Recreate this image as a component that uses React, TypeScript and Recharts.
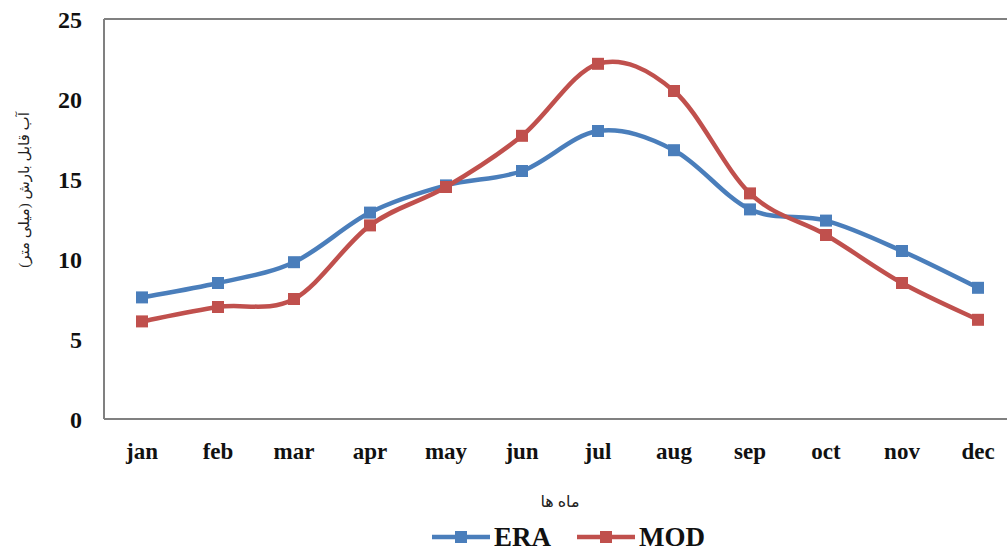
import React from 'react';
import { LineChart, Line, XAxis, YAxis, Legend, Label, ReferenceLine } from 'recharts';

const months = ['jan', 'feb', 'mar', 'apr', 'may', 'jun', 'jul', 'aug', 'sep', 'oct', 'nov', 'dec'];
const eraValues = [7.6, 8.5, 9.8, 12.9, 14.6, 15.5, 18.0, 16.8, 13.1, 12.4, 10.5, 8.2];
const modValues = [6.1, 7.0, 7.5, 12.1, 14.5, 17.7, 22.2, 20.5, 14.1, 11.5, 8.5, 6.2];
const yTicks = [0, 5, 10, 15, 20, 25];

const ERA_COLOR = '#4a7ebb';
const MOD_COLOR = '#c0504d';
const SERIF = '"Liberation Serif", "Times New Roman", "DejaVu Sans", serif';

const data = months.map((m, i) => ({ month: m, ERA: eraValues[i], MOD: modValues[i] }));

// excel-like smoothed line (catmull-rom as bezier)
const excelSmooth = (ctx: any) => {
  let pts: number[][] = [];
  return {
    areaStart() {},
    areaEnd() {},
    lineStart() { pts = []; },
    point(x: number, y: number) { pts.push([+x, +y]); },
    lineEnd() {
      if (!pts.length) return;
      ctx.moveTo(pts[0][0], pts[0][1]);
      for (let i = 0; i < pts.length - 1; i++) {
        const p0 = pts[i - 1] || pts[i];
        const p1 = pts[i];
        const p2 = pts[i + 1];
        const p3 = pts[i + 2] || p2;
        ctx.bezierCurveTo(
          p1[0] + (p2[0] - p0[0]) / 6, p1[1] + (p2[1] - p0[1]) / 6,
          p2[0] - (p3[0] - p1[0]) / 6, p2[1] - (p3[1] - p1[1]) / 6,
          p2[0], p2[1]
        );
      }
    },
  };
};

const squareDot = (color: string, name: string) => (p: any) => (
  <rect key={`${name}-${p.index}`} x={p.cx - 6} y={p.cy - 6} width={12} height={12} fill={color} />
);

const LegendIcon = ({ color }: { color: string }) => (
  <svg width={58} height={14} style={{ display: 'block' }}>
    <line x1={0} y1={7} x2={58} y2={7} stroke={color} strokeWidth={4.5} />
    <rect x={23} y={1} width={12} height={12} fill={color} />
  </svg>
);

const renderLegend = () => (
  <div style={{ height: 34, display: 'flex', alignItems: 'center', justifyContent: 'flex-start', paddingLeft: 432, fontFamily: SERIF, fontWeight: 'bold', fontSize: 27, color: '#111' }}>
    <div style={{ display: 'flex', alignItems: 'center', marginRight: 26 }}>
      <LegendIcon color={ERA_COLOR} />
      <span style={{ marginLeft: 4 }}>ERA</span>
    </div>
    <div style={{ display: 'flex', alignItems: 'center' }}>
      <LegendIcon color={MOD_COLOR} />
      <span style={{ marginLeft: 4 }}>MOD</span>
    </div>
  </div>
);

const YTitle = (props: any) => {
  const x = 26;
  const y = 190;
  return (
    <text x={x} y={y} transform={`rotate(-90, ${x}, ${y})`} textAnchor="middle" dominantBaseline="middle"
      fontFamily={SERIF} fontSize={15} fill="#222">
      آب قابل بارش (میلی متر)
    </text>
  );
};

export default function App() {
  return (
    <div style={{ position: 'fixed', left: 0, top: 0, width: 1007, height: 554, overflow: 'hidden', background: '#fff' }}>
      <LineChart width={1022} height={554} data={data} margin={{ top: 19, right: 6, left: 0, bottom: 0 }}>
        <XAxis
          dataKey="month"
          height={101}
          padding={{ left: 38, right: 38 }}
          tickSize={0}
          tickMargin={24}
          axisLine={{ stroke: '#808080', strokeWidth: 2 }}
          tick={{ fontFamily: SERIF, fontWeight: 'bold', fontSize: 23, fill: '#111' }}
        >
          <Label value="ماه ها" position="insideBottom" offset={13} fontFamily={SERIF} fontSize={16} fill="#222" />
        </XAxis>
        <YAxis
          width={104}
          domain={[0, 25]}
          ticks={yTicks}
          interval={0}
          tickSize={0}
          tickMargin={22}
          axisLine={{ stroke: '#808080', strokeWidth: 2 }}
          tick={{ fontFamily: SERIF, fontWeight: 'bold', fontSize: 24, fill: '#111' }}
        >
          <Label content={<YTitle />} />
        </YAxis>
        <ReferenceLine y={25} stroke="#808080" strokeWidth={2} />
        <Legend verticalAlign="bottom" content={renderLegend} />
        <Line type={excelSmooth as any} dataKey="ERA" stroke={ERA_COLOR} strokeWidth={4.5}
          dot={squareDot(ERA_COLOR, 'era')} activeDot={false} isAnimationActive={false} />
        <Line type={excelSmooth as any} dataKey="MOD" stroke={MOD_COLOR} strokeWidth={4.5}
          dot={squareDot(MOD_COLOR, 'mod')} activeDot={false} isAnimationActive={false} />
      </LineChart>
    </div>
  );
}
